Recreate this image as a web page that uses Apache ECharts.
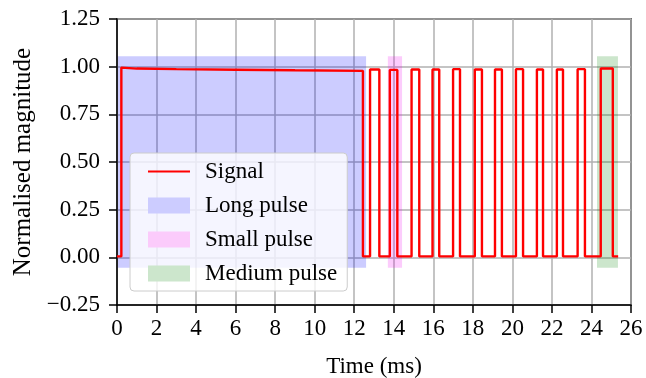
<!DOCTYPE html>
<html>
<head>
<meta charset="utf-8">
<script src="https://cdn.jsdelivr.net/npm/echarts@6/dist/echarts.min.js"></script>
<style>
  html, body { margin: 0; padding: 0; background: #fff; }
  #chart { width: 646px; height: 378px; }
</style>
</head>
<body>
<div id="chart"></div>
<script>
// long pulse top (slow droop), time in ms
const longTimes = [0.22, 1.0, 3.0, 6.0, 9.0, 12.44]
const longLevels = [0.995, 0.99, 0.987, 0.984, 0.981, 0.978]

// short pulses after the long one
const pulseStart = [12.80, 13.80, 14.90, 15.96, 17.00, 18.10, 19.12, 20.18, 21.24, 22.25, 23.30, 24.47]
const pulseEnd   = [13.27, 14.18, 15.29, 16.30, 17.35, 18.46, 19.47, 20.54, 21.55, 22.56, 23.67, 25.08]
const pulseLevel = [0.985, 0.983, 0.985, 0.985, 0.987, 0.985, 0.985, 0.987, 0.985, 0.985, 0.987, 0.99]

const baseLevel = 0.005
const signalEnd = 25.35

// shaded spans [from, to] in ms, vertical extent in magnitude
const longSpan = [0.05, 12.6]
const smallSpan = [13.7, 14.42]
const mediumSpan = [24.28, 25.34]
const spanBottom = -0.055
const spanTop = 1.055

const xTicks = { min: 0, max: 26, step: 2 }
const yTicks = { min: -0.25, max: 1.25, step: 0.25 }

function buildSignal() {
  const pts = [[0, baseLevel], [longTimes[0], baseLevel]]
  longTimes.forEach((t, i) => pts.push([t, longLevels[i]]))
  pts.push([longTimes[longTimes.length - 1], baseLevel])
  pulseStart.forEach((s, i) => {
    pts.push([s, baseLevel])
    pts.push([s, pulseLevel[i]])
    pts.push([pulseEnd[i], pulseLevel[i]])
    pts.push([pulseEnd[i], baseLevel])
  })
  pts.push([signalEnd, baseLevel])
  return pts
}

function spanSeries(name, span, fill, legendColor) {
  return {
    name: name,
    type: 'line',
    data: [],
    symbol: 'none',
    itemStyle: { color: legendColor },
    lineStyle: { width: 0 },
    z: 1,
    markArea: {
      silent: true,
      itemStyle: { color: fill },
      data: [[{ xAxis: span[0], yAxis: spanBottom }, { xAxis: span[1], yAxis: spanTop }]],
    },
  }
}

const font = 'Liberation Serif, Times New Roman, serif'
const fs = 23
const chart = echarts.init(document.getElementById('chart'), null, { renderer: 'canvas' })

chart.setOption({
  animation: false,
  backgroundColor: '#fff',
  grid: {
    left: 117, right: 15, top: 19, bottom: 73,
    outerBoundsMode: 'none',
    show: true, borderColor: '#000', borderWidth: 1.5,
  },
  legend: {
    left: 130, top: 153,
    orient: 'vertical',
    padding: [7, 10, 6, 18],
    itemWidth: 42,
    itemHeight: 16,
    itemGap: 11,
    backgroundColor: 'rgba(255,255,255,0.8)',
    borderColor: '#cccccc',
    borderWidth: 1,
    borderRadius: 4,
    textStyle: { fontFamily: font, fontSize: fs, color: '#000', lineHeight: 22, padding: [0, 0, 0, 10] },
    data: [
      { name: 'Signal', icon: 'path://M0,0 L42,0 L42,2 L0,2 Z' },
      { name: 'Long pulse', icon: 'rect' },
      { name: 'Small pulse', icon: 'rect' },
      { name: 'Medium pulse', icon: 'rect' },
    ],
  },
  xAxis: {
    type: 'value',
    min: xTicks.min, max: xTicks.max, interval: xTicks.step,
    name: 'Time (ms)',
    nameLocation: 'middle',
    nameGap: 50,
    nameTextStyle: { fontFamily: font, fontSize: fs, color: '#000' },
    axisLine: { show: true, onZero: false, lineStyle: { color: '#000', width: 1.5 } },
    axisTick: { show: true, length: 8, lineStyle: { color: '#000', width: 1.5 } },
    axisLabel: { fontFamily: font, fontSize: fs, color: '#000', margin: 12 },
    splitLine: { show: true, lineStyle: { color: '#b0b0b0', width: 1.5 } },
  },
  yAxis: {
    type: 'value',
    min: yTicks.min, max: yTicks.max, interval: yTicks.step,
    name: 'Normalised magnitude',
    nameLocation: 'middle',
    nameGap: 81,
    nameTextStyle: { fontFamily: font, fontSize: 25, color: '#000' },
    axisLine: { show: true, onZero: false, lineStyle: { color: '#000', width: 1.5 } },
    axisTick: { show: true, length: 8, lineStyle: { color: '#000', width: 1.5 } },
    axisLabel: {
      fontFamily: font, fontSize: fs, color: '#000', margin: 17,
      formatter: v => (v < 0 ? '\u2212' : '') + Math.abs(v).toFixed(2),
    },
    splitLine: { show: true, lineStyle: { color: '#b0b0b0', width: 1.5 } },
  },
  series: [
    {
      name: 'Signal',
      type: 'line',
      data: buildSignal(),
      symbol: 'none',
      showSymbol: false,
      z: 5,
      itemStyle: { color: '#ff0000' },
      lineStyle: { color: '#ff0000', width: 2.4 },
    },
    spanSeries('Long pulse', longSpan, 'rgba(0,0,255,0.2)', '#ccccff'),
    spanSeries('Small pulse', smallSpan, 'rgba(238,0,238,0.2)', '#fbcbfb'),
    spanSeries('Medium pulse', mediumSpan, 'rgba(0,128,0,0.2)', '#cce6cc'),
  ],
})
</script>
</body>
</html>
